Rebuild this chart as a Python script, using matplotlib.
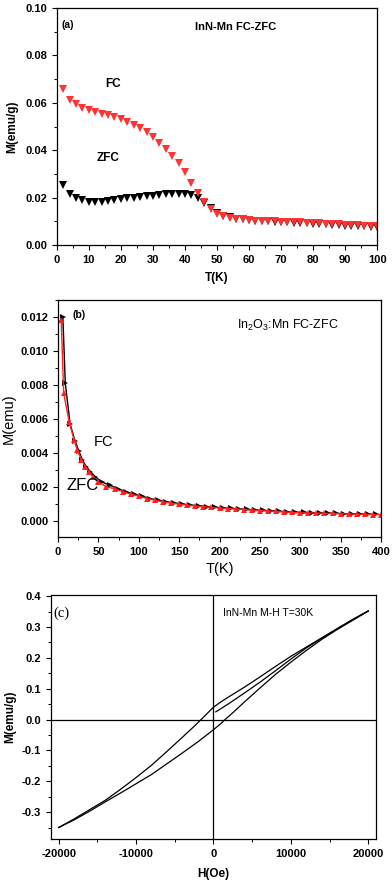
import matplotlib
matplotlib.use("Agg")
import matplotlib.pyplot as plt
from matplotlib.ticker import MultipleLocator
import numpy as np

plt.rcParams['font.family'] = ['Liberation Sans', 'DejaVu Sans']
plt.rcParams['axes.unicode_minus'] = False

# ---- panel (a): InN-Mn FC/ZFC ----
t_a = np.arange(2, 101, 2)
fc_a = [0.0658, 0.0614, 0.0594, 0.0580, 0.0570, 0.0561, 0.0554, 0.0547, 0.0540, 0.0533,
        0.0520, 0.0506, 0.0493, 0.0475, 0.0455, 0.0430, 0.0404, 0.0376, 0.0346, 0.0310,
        0.0262, 0.0218, 0.0182, 0.0152, 0.0133, 0.0123, 0.0116, 0.0112, 0.0109, 0.0106,
        0.0104, 0.0102, 0.0101, 0.0100, 0.0099, 0.0098, 0.0097, 0.0096, 0.0094, 0.0093,
        0.0092, 0.0091, 0.0089, 0.0088, 0.0087, 0.0085, 0.0084, 0.0083, 0.0082, 0.0081]
zfc_a = [0.0255, 0.0214, 0.0198, 0.0190, 0.0184, 0.0182, 0.0183, 0.0186, 0.0191, 0.0195,
         0.0198, 0.0201, 0.0204, 0.0206, 0.0209, 0.0211, 0.0214, 0.0215, 0.0216, 0.0215,
         0.0210, 0.0198, 0.0178, 0.0155, 0.0137, 0.0124, 0.0117, 0.0112, 0.0109, 0.0106,
         0.0104, 0.0102, 0.0100, 0.0098, 0.0097, 0.0096, 0.0094, 0.0093, 0.0092, 0.0090,
         0.0089, 0.0088, 0.0086, 0.0085, 0.0083, 0.0082, 0.0080, 0.0079, 0.0078, 0.0077]

# ---- panel (b): In2O3:Mn FC/ZFC ----
t_fc_b = [4, 7, 14, 20, 24, 29, 34, 38, 43, 50, 60, 70, 80, 90, 100, 110, 120, 130, 140,
          150, 160, 170, 180, 190, 200, 210, 220, 230, 240, 250, 260, 270, 280, 290, 300,
          310, 320, 330, 340, 350, 360, 370, 380, 390, 400]
fc_b = [0.0118, 0.0075, 0.0058, 0.00475, 0.00415, 0.0036, 0.0032, 0.0029, 0.0026, 0.0023,
        0.0020, 0.0019, 0.00172, 0.00158, 0.00146, 0.00132, 0.00122, 0.00113, 0.00105,
        0.00099, 0.00093, 0.00088, 0.00084, 0.00080, 0.00076, 0.00073, 0.00070, 0.00067,
        0.00064, 0.00061, 0.00059, 0.00056, 0.00053, 0.00050, 0.00048, 0.00047, 0.00046,
        0.00045, 0.00044, 0.00042, 0.00041, 0.00040, 0.00039, 0.00038, 0.00037]
t_zfc_b = [6, 9, 15, 21, 26, 30, 35, 40, 46, 54, 64, 74, 84, 94, 104, 114, 124, 134, 144,
           154, 164, 174, 184, 194, 204, 214, 224, 234, 244, 254, 264, 274, 284, 294, 304,
           314, 324, 334, 344, 354, 364, 374, 384, 394]
zfc_b = [0.0120, 0.0081, 0.0057, 0.0047, 0.0041, 0.0036, 0.0032, 0.0029, 0.0026, 0.0023,
         0.0021, 0.0019, 0.00172, 0.00158, 0.00146, 0.00132, 0.00122, 0.00113, 0.00106,
         0.00100, 0.00094, 0.00089, 0.00085, 0.00081, 0.00077, 0.00074, 0.00071, 0.00068,
         0.00065, 0.00062, 0.00060, 0.00057, 0.00054, 0.00052, 0.00050, 0.00048, 0.00047,
         0.00046, 0.00045, 0.00043, 0.00042, 0.00041, 0.00040, 0.00039]

# ---- panel (c): InN-Mn M-H at 30K ----
h_down = [20000, 18000, 16000, 14000, 12000, 10000, 8000, 6000, 4000, 2000, 1000, 0, -800,
          -1600, -2500, -4000, -6000, -8000, -10000, -12000, -14000, -16000, -18000, -20000]
m_down = [0.352, 0.325, 0.295, 0.265, 0.235, 0.205, 0.172, 0.138, 0.105, 0.074, 0.058,
          0.040, 0.020, 0.0, -0.022, -0.057, -0.103, -0.148, -0.188, -0.226, -0.262, -0.292,
          -0.322, -0.350]
h_up = [-20000, -18000, -16000, -14000, -12000, -10000, -8000, -6000, -4000, -2000, 0,
        1000, 1500, 2500, 4000, 6000, 8000, 10000, 12000, 14000, 16000, 18000, 20000]
m_up = [-0.350, -0.325, -0.297, -0.267, -0.238, -0.208, -0.178, -0.143, -0.108, -0.072,
        -0.033, -0.012, 0.0, 0.022, 0.057, 0.102, 0.146, 0.186, 0.224, 0.260, 0.292,
        0.322, 0.352]
h_virgin = [300, 1000, 2000, 4000, 6000, 8000, 10000, 12000, 14000, 16000, 18000, 20000]
m_virgin = [0.025, 0.036, 0.052, 0.086, 0.121, 0.158, 0.196, 0.232, 0.264, 0.294, 0.323,
            0.352]

fig = plt.figure(figsize=(3.92, 8.82), dpi=100)


def style(ax):
    ax.tick_params(which='major', direction='out', length=3.5, width=0.8)
    ax.tick_params(which='minor', direction='out', length=2, width=0.7)
    for lab in ax.get_xticklabels() + ax.get_yticklabels():
        lab.set_fontweight('bold')
        lab.set_fontsize(8)
    for s in ax.spines.values():
        s.set_linewidth(0.9)


# (a)
ax1 = fig.add_axes([0.145, 0.722, 0.817, 0.269])
ax1.plot(t_a, zfc_a, 'v', color='black', ms=5.3, mew=0)
ax1.plot(t_a, fc_a, 'v', color='#ff3333', ms=5.3, mew=0)
ax1.set_xlim(0, 100)
ax1.set_ylim(0, 0.10)
ax1.xaxis.set_major_locator(MultipleLocator(10))
ax1.xaxis.set_minor_locator(MultipleLocator(5))
ax1.yaxis.set_major_locator(MultipleLocator(0.02))
ax1.yaxis.set_minor_locator(MultipleLocator(0.01))
ax1.yaxis.set_major_formatter(plt.FormatStrFormatter('%.2f'))
style(ax1)
ax1.set_xlabel('T(K)', fontsize=8.5, fontweight='bold', labelpad=5)
ax1.set_ylabel('M(emu/g)', fontsize=8.5, fontweight='bold', labelpad=5)
ax1.text(1.5, 0.093, '(a)', fontsize=7.5, fontweight='bold', va='center')
ax1.text(43, 0.092, 'InN-Mn FC-ZFC', fontsize=8, fontweight='bold', va='center')
ax1.text(17.5, 0.068, 'FC', fontsize=8.5, fontweight='bold', ha='center', va='center')
ax1.text(16, 0.0367, 'ZFC', fontsize=8.5, fontweight='bold', ha='center', va='center')

# (b)
ax2 = fig.add_axes([0.148, 0.391, 0.824, 0.269])
ax2.plot(t_zfc_b, zfc_b, '>', ls='-', color='black', lw=1, ms=4, mew=0)
ax2.plot(t_fc_b, fc_b, '^', ls='-', color='#ff2020', lw=1, ms=5, mew=0)
ax2.set_xlim(0, 400)
ax2.set_ylim(-0.00095, 0.0130)
ax2.xaxis.set_major_locator(MultipleLocator(50))
ax2.xaxis.set_minor_locator(MultipleLocator(25))
ax2.yaxis.set_major_locator(MultipleLocator(0.002))
ax2.yaxis.set_minor_locator(MultipleLocator(0.001))
ax2.yaxis.set_major_formatter(plt.FormatStrFormatter('%.3f'))
style(ax2)
ax2.set_xlabel('T(K)', fontsize=10.5, labelpad=4)
ax2.set_ylabel('M(emu)', fontsize=10.5, labelpad=3)
ax2.text(18, 0.0121, '(b)', fontsize=7.5, fontweight='bold', va='center')
ax2.text(222, 0.0115, r'In$_\mathregular{2}$O$_\mathregular{3}$:Mn FC-ZFC', fontsize=9, va='center')
ax2.text(56, 0.00465, 'FC', fontsize=10.5, ha='center', va='center')
ax2.text(30, 0.0021, 'ZFC', fontsize=12, ha='center', va='center')

# (c)
ax3 = fig.add_axes([0.130, 0.0488, 0.829, 0.277])
ax3.axhline(0, color='black', lw=0.9)
ax3.axvline(0, color='black', lw=0.9)
ax3.plot(h_down, m_down, color='black', lw=0.9)
ax3.plot(h_up, m_up, color='black', lw=0.9)
ax3.plot(h_virgin, m_virgin, color='black', lw=0.9)
ax3.set_xlim(-21000, 21000)
ax3.set_ylim(-0.387, 0.405)
ax3.xaxis.set_major_locator(MultipleLocator(10000))
ax3.xaxis.set_minor_locator(MultipleLocator(5000))
ax3.yaxis.set_major_locator(MultipleLocator(0.1))
ax3.yaxis.set_minor_locator(MultipleLocator(0.05))
ax3.yaxis.set_major_formatter(plt.FormatStrFormatter('%.1f'))
style(ax3)
ax3.set_xlabel('H(Oe)', fontsize=8.5, fontweight='bold', labelpad=7)
ax3.set_ylabel('M(emu/g)', fontsize=8.5, fontweight='bold', labelpad=4)
ax3.text(-20700, 0.344, '(c)', fontsize=10.5, family=['Liberation Serif', 'DejaVu Serif'],
         va='center')
ax3.text(1200, 0.347, 'InN-Mn M-H T=30K', fontsize=7.5, va='center')

fig.savefig('out.png', dpi=100)
